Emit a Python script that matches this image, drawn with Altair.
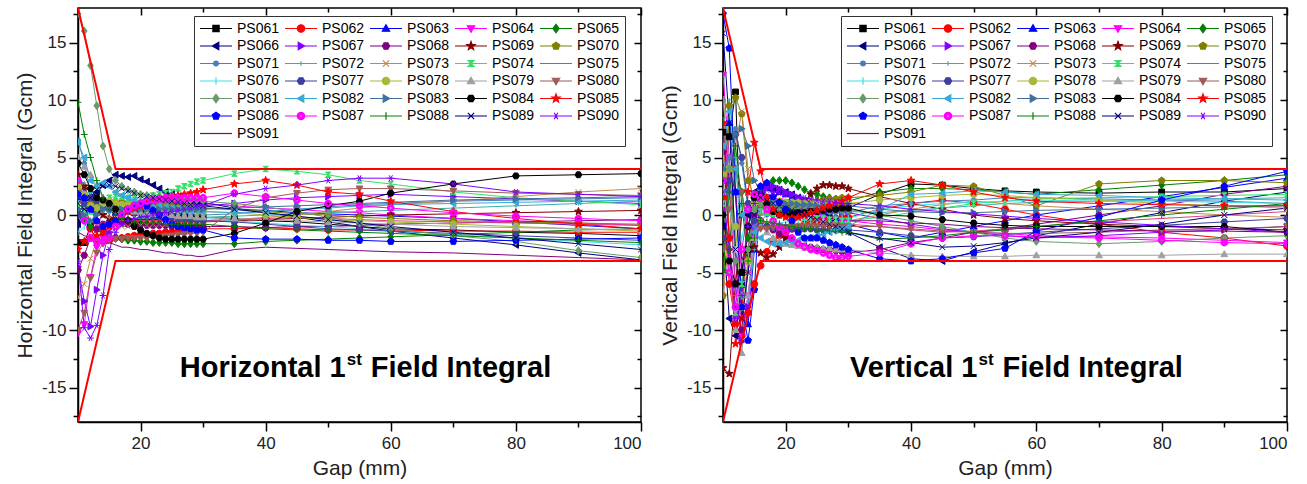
import math
import altair as alt
import pandas as pd

# ---------------- data ----------------
GAP = [10, 11, 12, 13, 14, 15, 16, 17, 18, 19, 20, 21, 22, 23, 24, 25, 26, 27, 28, 29, 30,
       35, 40, 45, 50, 55, 60, 70, 80, 90, 100]

SERIES = ["PS061", "PS062", "PS063", "PS064", "PS065", "PS066", "PS067", "PS068", "PS069", "PS070",
          "PS071", "PS072", "PS073", "PS074", "PS075", "PS076", "PS077", "PS078", "PS079", "PS080",
          "PS081", "PS082", "PS083", "PS084", "PS085", "PS086", "PS087", "PS088", "PS089", "PS090",
          "PS091"]

COLORS = ["#000000", "#ff0000", "#0000ff", "#ff00ff", "#008000", "#000080", "#8000ff", "#800080",
          "#800000", "#808000", "#4a7ebb", "#3aafa9", "#c08850", "#33e066", "#e0407f", "#40e0e8",
          "#3f3f9f", "#a8b838", "#a0a0a0", "#a05a5a", "#6a9a6a", "#38a8d8", "#3f6f9f", "#000000",
          "#ff0000", "#0000ff", "#ff00ff", "#008000", "#000080", "#8000ff", "#800080"]

MARKERS = ["square", "circle", "tri_up", "tri_down", "diamond", "tri_left", "tri_right", "hexagon",
           "star", "pentagon", "small_circle", "small_plus", "cross", "bowtie", "dash", "vbar",
           "hexagon", "circle", "tri_up", "tri_down", "diamond", "tri_left", "tri_right", "hexagon",
           "star", "pentagon", "ring", "plus", "cross", "asterisk", "none"]

TOL_GAP = [10, 16, 100]
TOL_UP = [18, 4, 4]
TOL_LO = [-18, -4, -4]

# Horizontal 1st field integral (Gcm)
H061 = [-2.4, -2.4, -1.0, 0.5, 0.8, 0.6, 0.4, 0.3, 0.3, 0.2, 0.2, 0.1, 0.1, 0.0, 0.0, -0.1, -0.1, -0.1, -0.2, -0.2, -0.2, -0.3, -0.5, -0.6, -0.8, -1.0, -1.2, -1.3, -1.5, -1.6, -1.8]
H062 = [2.8, 1.5, -1.2, -2.2, -2.3, -2.2, -2.0, -2.0, -1.9, -1.8, -1.7, -1.7, -1.6, -1.6, -1.5, -1.5, -1.4, -1.4, -1.3, -1.3, -1.2, -1.2, -1.1, -1.2, -1.3, -1.3, -1.3, -1.4, -1.4, -1.5, -1.5]
H063 = [1.5, 2.0, 1.0, -0.5, -1.2, -0.8, 0.2, 0.8, 1.0, 1.1, 1.0, 1.0, 0.9, 0.9, 0.8, 0.8, 0.8, 0.7, 0.7, 0.6, 0.6, 0.5, 0.4, 0.2, 0.1, 0.0, -0.1, -0.3, -0.6, -0.9, -1.2]
H064 = [-10.3, -9.5, -5.4, -2.8, -2.0, -1.2, -0.5, 0.2, 0.6, 0.8, 0.9, 0.9, 1.0, 1.0, 1.0, 1.0, 1.0, 1.0, 1.0, 1.0, 1.0, 0.8, 0.6, 0.5, 0.3, 0.2, 0.0, -0.3, -0.5, -0.7, -0.9]
H065 = [0.5, -0.3, -1.0, -1.3, -1.5, -1.8, -2.0, -2.1, -2.2, -2.2, -2.3, -2.3, -2.4, -2.4, -2.4, -2.4, -2.5, -2.5, -2.5, -2.5, -2.5, -2.5, -2.3, -2.2, -2.1, -2.0, -1.9, -1.7, -1.5, -1.3, -1.2]
H066 = [-0.8, 0.5, 1.5, 2.0, 2.6, 3.0, 3.5, 3.4, 3.3, 3.4, 3.1, 2.9, 2.6, 2.3, 2.0, 1.8, 1.6, 1.5, 1.3, 1.2, 1.1, 0.6, 0.2, -0.2, -0.6, -1.0, -1.4, -2.0, -2.6, -3.3, -3.9]
H067 = [-4.5, -7.5, -9.7, -6.5, -3.5, -1.5, -0.5, 0.0, 0.3, 0.5, 0.6, 0.6, 0.7, 0.7, 0.7, 0.7, 0.8, 0.8, 0.8, 0.8, 0.8, 1.0, 1.3, 1.5, 1.6, 1.7, 1.8, 1.6, 1.4, 1.2, 1.0]
H068 = [-4.8, -3.5, -2.0, -1.2, -0.8, -0.6, -0.7, -0.7, -0.8, -0.8, -0.8, -0.9, -0.9, -0.9, -0.9, -1.0, -1.0, -1.0, -1.0, -1.0, -1.0, -1.0, -1.1, -1.0, -1.0, -0.9, -0.8, -0.7, -0.6, -0.5, -0.4]
H069 = [3.5, 2.5, 1.2, 0.5, 0.0, -0.3, -0.4, -0.4, -0.4, -0.5, -0.5, -0.5, -0.5, -0.5, -0.5, -0.6, -0.6, -0.6, -0.6, -0.6, -0.6, -0.5, -0.4, -0.3, -0.2, -0.1, 0.0, 0.1, 0.2, 0.3, 0.4]
H070 = [2.0, 1.5, 1.0, 0.8, 1.0, 1.2, 1.1, 1.1, 1.0, 1.0, 0.9, 0.9, 0.9, 0.8, 0.8, 0.8, 0.7, 0.7, 0.7, 0.6, 0.6, 0.5, 0.3, 0.1, 0.0, -0.2, -0.3, -0.5, -0.6, -0.7, -0.8]
H071 = [6.5, 4.5, 2.0, 1.0, 0.5, 0.3, 0.3, 0.3, 0.2, 0.2, 0.2, 0.2, 0.1, 0.1, 0.1, 0.1, 0.1, 0.0, 0.0, 0.0, 0.0, 0.1, 0.3, 0.5, 0.7, 0.9, 1.0, 1.2, 1.3, 1.4, 1.5]
H072 = [3.0, 2.8, 2.0, 1.0, 0.3, -0.2, -0.3, -0.3, -0.3, -0.3, -0.3, -0.3, -0.3, -0.3, -0.2, -0.2, -0.2, -0.2, -0.2, -0.2, -0.2, -0.1, 0.0, 0.1, 0.2, 0.3, 0.4, 0.6, 0.8, 1.0, 1.2]
H073 = [-7.2, -6.0, -3.8, -2.2, -1.5, -1.2, -1.0, -1.0, -1.0, -0.9, -0.9, -0.9, -0.8, -0.8, -0.8, -0.7, -0.7, -0.7, -0.6, -0.6, -0.6, -0.4, -0.2, 0.0, 0.3, 0.6, 0.9, 1.2, 1.6, 2.0, 2.3]
H074 = [1.0, 0.5, 0.3, 0.8, 1.2, 1.5, 1.6, 1.6, 1.5, 1.5, 1.5, 1.6, 1.7, 1.8, 1.9, 2.0, 2.3, 2.5, 2.7, 2.9, 3.0, 3.6, 4.0, 3.8, 3.5, 3.0, 2.7, 2.0, 1.5, 1.2, 0.9]
H075 = [1.5, 0.5, -0.5, -0.8, -0.7, -0.6, -0.6, -0.5, -0.5, -0.5, -0.5, -0.5, -0.5, -0.5, -0.5, -0.5, -0.5, -0.5, -0.5, -0.5, -0.5, -0.4, -0.3, -0.2, -0.3, -0.4, -0.5, -0.6, -0.7, -0.8, -0.9]
H076 = [-1.5, -1.0, -0.5, 0.2, 0.5, 0.4, 0.3, 0.3, 0.2, 0.2, 0.1, 0.1, 0.0, 0.0, 0.0, -0.1, -0.1, -0.2, -0.2, -0.3, -0.3, -0.5, -0.7, -0.9, -1.0, -1.2, -1.4, -1.7, -2.0, -2.3, -2.6]
H077 = [0.0, 1.0, 1.5, 1.2, 0.8, 0.6, 0.5, 0.4, 0.3, 0.2, 0.1, 0.0, -0.1, -0.1, -0.2, -0.2, -0.3, -0.3, -0.4, -0.4, -0.5, -0.6, -0.8, -1.0, -1.2, -1.3, -1.4, -1.6, -1.8, -2.0, -2.2]
H078 = [2.5, 1.8, 0.8, 0.6, 1.0, 1.2, 1.0, 0.9, 0.9, 0.8, 0.8, 0.7, 0.7, 0.6, 0.6, 0.5, 0.5, 0.4, 0.4, 0.3, 0.3, 0.2, 0.0, -0.2, -0.4, -0.5, -0.6, -0.8, -1.0, -1.2, -1.4]
H079 = [5.0, 4.2, 3.5, 2.5, 1.5, 0.8, 0.5, 0.4, 0.3, 0.3, 0.2, 0.2, 0.1, 0.1, 0.0, 0.0, -0.1, -0.1, -0.1, -0.2, -0.2, -0.3, -0.4, -0.5, -0.6, -0.7, -0.8, -1.0, -1.1, -1.2, -1.3]
H080 = [-10.0, -8.5, -5.5, -3.3, -2.5, -2.2, -2.1, -2.1, -2.0, -2.0, -2.0, -2.0, -1.9, -1.9, -1.8, -1.8, -1.7, -1.7, -1.6, -1.6, -1.5, 0.5, 1.5, 1.9, 2.2, 2.3, 2.3, 2.1, 1.9, 1.8, 1.7]
H081 = [17.5, 16.0, 13.0, 9.5, 6.0, 4.0, 3.0, 2.5, 2.2, 2.0, 1.8, 1.7, 1.6, 1.6, 1.5, 1.5, 1.4, 1.4, 1.3, 1.3, 1.2, 1.0, 0.7, 0.3, -0.2, -0.7, -1.2, -1.8, -2.3, -3.1, -3.7]
H082 = [6.3, 5.0, 3.0, 2.5, 2.8, 2.5, 2.0, 1.7, 1.5, 1.3, 1.1, 1.0, 0.9, 0.8, 0.7, 0.6, 0.5, 0.5, 0.4, 0.4, 0.3, 0.2, 0.3, 0.5, 0.6, 0.8, 0.9, 1.0, 1.1, 1.2, 1.3]
H083 = [0.5, 0.0, -0.5, 0.0, 0.5, 0.6, 0.6, 0.5, 0.5, 0.5, 0.5, 0.5, 0.5, 0.5, 0.5, 0.5, 0.5, 0.5, 0.5, 0.5, 0.5, 0.6, 0.7, 0.8, 0.9, 1.0, 1.1, 1.3, 1.4, 1.5, 1.6]
H084 = [4.5, 3.5, 2.3, 1.5, 1.3, 1.0, 0.5, 0.0, -0.5, -1.0, -1.3, -1.6, -1.8, -2.0, -2.1, -2.1, -2.1, -2.1, -2.1, -2.1, -2.1, -1.6, -0.7, 0.3, 0.8, 1.2, 1.9, 2.7, 3.4, 3.5, 3.6]
H085 = [-3.0, -2.3, -2.0, -1.8, -1.5, -1.0, -0.5, 0.0, 0.3, 0.6, 0.8, 1.0, 1.2, 1.4, 1.5, 1.6, 1.7, 1.8, 1.9, 2.0, 2.2, 2.7, 3.0, 2.6, 2.0, 1.8, 1.2, 0.3, -0.3, -0.8, -1.2]
H086 = [1.8, 1.5, 0.5, -0.5, -1.0, -0.8, -0.5, 0.0, 0.5, 0.8, 1.0, 0.8, 0.4, 0.0, -0.4, -0.8, -1.0, -1.1, -1.2, -1.3, -1.3, -2.0, -2.1, -2.1, -2.2, -2.2, -2.3, -2.3, -2.2, -2.1, -2.0]
H087 = [3.0, -0.5, -2.0, -2.3, -2.3, -2.0, -1.0, 0.0, 0.5, 0.8, 1.0, 1.2, 1.3, 1.4, 1.5, 1.5, 1.5, 1.5, 1.5, 1.5, 1.5, 1.9, 1.6, 1.3, 1.0, 0.8, 0.6, 0.2, -0.1, -0.3, -0.5]
H088 = [9.8, 7.0, 5.0, 3.0, 1.5, 0.5, 0.0, -0.3, -0.5, -0.6, -0.6, -0.7, -0.7, -0.7, -0.8, -0.8, -0.8, -0.8, -0.8, -0.8, -0.8, -1.0, -1.2, -1.3, -1.4, -1.5, -1.6, -1.8, -2.0, -2.2, -2.4]
H089 = [1.0, 0.5, 1.5, 2.2, 2.5, 2.6, 2.5, 2.3, 2.1, 1.9, 1.7, 1.6, 1.5, 1.4, 1.3, 1.2, 1.1, 1.0, 0.9, 0.9, 0.8, 0.5, 0.2, -0.1, -0.4, -0.7, -1.0, -1.5, -2.0, -2.5, -3.0]
H090 = [-4.0, -9.8, -10.7, -9.6, -7.0, -3.0, -1.5, -0.8, -0.5, -0.3, -0.2, -0.1, 0.0, 0.1, 0.2, 0.3, 0.4, 0.5, 0.6, 0.7, 0.8, 1.8, 2.3, 2.6, 3.0, 3.2, 3.2, 2.7, 2.0, 1.8, 1.6]
H091 = [-1.5, -1.8, -2.0, -2.2, -2.5, -2.4, -2.6, -2.8, -2.8, -2.9, -3.0, -3.0, -3.1, -3.2, -3.3, -3.3, -3.4, -3.5, -3.5, -3.6, -3.6, -3.0, -2.8, -2.9, -3.0, -3.1, -3.2, -3.3, -3.5, -3.7, -3.9]

# Vertical 1st field integral (Gcm)
V061 = [7.2, 6.8, 10.7, -5.0, -3.0, 0.5, 1.8, 1.5, 1.0, 0.5, 0.3, 0.2, 0.2, 0.3, 0.4, 0.5, 0.5, 0.6, 0.6, 0.6, 0.6, 1.8, 2.7, 2.6, 2.3, 2.1, 2.0, 1.9, 2.0, 2.0, 2.3]
V062 = [1.5, -6.0, -9.5, -10.5, -8.5, -6.0, -4.4, -3.2, -2.2, -1.8, -1.5, -1.2, -1.0, -0.8, -0.6, -0.5, -0.4, -0.3, -0.3, -0.2, -0.2, 0.5, 1.0, 1.3, 1.0, 0.5, 0.0, -0.8, -1.5, -2.0, -2.7]
V063 = [3.0, 8.0, 2.0, -8.0, -9.5, -3.0, 1.0, 2.5, 2.3, 2.0, 1.8, 1.5, 1.2, 1.0, 0.8, 0.5, 0.2, 0.0, -0.3, -0.6, -0.8, -1.5, -2.0, -1.5, -1.0, -0.5, 0.0, 0.8, 1.6, 2.4, 3.2]
V064 = [12.2, 5.0, -4.0, -10.5, -7.0, -2.0, 0.5, 1.5, 1.5, 1.2, 1.0, 0.8, 0.5, 0.3, 0.2, 0.0, -0.2, -0.3, -0.4, -0.5, -0.5, -0.8, -1.0, -1.3, -1.5, -1.6, -1.8, -1.9, -2.0, -2.2, -2.4]
V065 = [-4.8, -3.0, 4.0, 2.0, -2.0, 0.5, 2.0, 2.5, 3.0, 3.0, 3.0, 2.8, 2.5, 2.2, 1.9, 1.8, 1.6, 1.5, 1.4, 1.3, 1.2, 2.0, 2.3, 2.3, 2.2, 2.0, 1.8, 2.2, 2.6, 3.0, 3.5]
V066 = [-1.0, -9.0, -10.5, -6.0, 0.0, 2.0, 2.3, 2.4, 2.3, 2.2, 2.0, 1.8, 1.5, 1.2, 0.9, 0.6, 0.3, 0.0, -0.5, -1.0, -1.5, -2.8, -3.8, -4.0, -3.2, -2.5, -1.8, -0.8, 0.2, 1.2, 2.0]
V067 = [8.0, 2.0, -6.0, -11.0, -8.0, -1.0, 1.5, 2.4, 2.5, 2.3, 2.0, 1.8, 1.5, 1.3, 1.0, 0.8, 0.6, 0.5, 0.4, 0.3, 0.2, -0.3, -0.8, -1.2, -1.5, -1.8, -2.0, -1.8, -1.5, -1.3, -1.0]
V068 = [5.5, -2.0, -8.0, -10.0, -4.0, 0.0, -0.5, -1.0, -1.3, -1.6, -1.9, -2.2, -2.5, -2.7, -2.8, -2.9, -3.0, -3.0, -3.1, -3.2, -3.3, -3.0, -2.4, -2.0, -1.5, -1.2, -0.8, 0.0, 0.8, 1.8, 2.5]
V069 = [-13.3, -13.8, -6.0, 0.0, -1.0, -2.8, -3.3, -3.7, -3.4, -2.8, -2.0, -1.0, 0.0, 1.0, 1.8, 2.3, 2.6, 2.6, 2.5, 2.5, 2.3, 1.6, 1.0, 0.5, 0.0, -0.3, -0.5, -0.8, -1.0, -1.2, -1.3]
V070 = [-7.0, 9.5, 10.2, 8.8, 3.0, 1.5, 1.0, 0.8, 0.6, 0.6, 0.7, 0.8, 0.9, 1.0, 1.1, 1.2, 1.3, 1.4, 1.4, 1.5, 1.5, 1.7, 2.0, 2.6, 2.5, 1.7, 0.8, 2.7, 3.0, 3.0, 2.8]
V071 = [4.0, 5.0, 7.5, 4.5, 0.5, -1.0, -0.5, 0.0, 0.2, 0.2, 0.2, 0.2, 0.2, 0.2, 0.2, 0.2, 0.2, 0.2, 0.2, 0.2, 0.2, 0.8, 1.0, 1.2, 1.3, 1.5, 1.5, 1.4, 1.3, 1.2, 1.0]
V072 = [4.5, 10.0, 5.0, -4.0, -7.5, -3.0, 0.0, 0.5, 0.5, 0.5, 0.4, 0.4, 0.4, 0.4, 0.3, 0.3, 0.3, 0.3, 0.3, 0.3, 0.3, 0.2, 0.4, 0.6, 0.8, 1.0, 1.1, 1.2, 1.3, 1.4, 1.5]
V073 = [-7.0, -2.0, 6.0, 9.0, 4.0, 0.5, -0.5, -0.8, -1.0, -1.0, -1.0, -0.9, -0.9, -0.8, -0.8, -0.7, -0.7, -0.6, -0.6, -0.5, -0.5, 0.0, 0.5, 0.9, 1.2, 1.0, 0.8, 0.5, 0.3, 0.0, -0.2]
V074 = [1.0, -4.0, -8.5, -6.0, -1.0, 0.5, 0.3, 0.2, 0.1, 0.0, 0.0, -0.1, -0.1, -0.2, -0.2, -0.3, -0.3, -0.4, -0.4, -0.5, -0.5, -0.2, 0.2, 0.6, 1.0, 1.2, 1.4, 1.5, 1.6, 1.7, 1.8]
V075 = [8.5, 3.0, -7.0, -9.0, -5.0, -1.5, 0.0, 0.2, 0.1, 0.0, -0.1, -0.2, -0.3, -0.3, -0.4, -0.5, -0.5, -0.6, -0.7, -0.8, -0.8, -1.0, -1.3, -1.5, -1.4, -1.2, -1.0, -0.6, -0.3, 0.0, 0.3]
V076 = [5.5, 1.0, -3.0, -2.0, 0.5, -0.5, -1.0, -0.8, -0.7, -0.7, -0.6, -0.6, -0.5, -0.5, -0.5, -0.4, -0.4, -0.4, -0.3, -0.3, -0.3, 0.5, 0.8, 1.0, 1.1, 1.2, 1.3, 1.2, 1.2, 1.1, 1.0]
V077 = [-2.0, 3.0, 7.0, 5.0, 1.0, -0.5, -1.0, -1.0, -1.1, -1.1, -1.1, -1.2, -1.2, -1.2, -1.2, -1.3, -1.3, -1.3, -1.3, -1.3, -1.3, -1.5, -1.8, -2.0, -1.9, -1.7, -1.5, -1.2, -0.9, -0.6, -0.3]
V078 = [3.5, 4.0, -1.0, -8.0, -4.0, 1.0, 1.5, 1.3, 1.2, 1.2, 1.1, 1.1, 1.1, 1.0, 1.0, 1.0, 1.0, 1.0, 1.0, 1.0, 1.0, 1.3, 1.5, 1.7, 1.8, 1.7, 1.5, 1.3, 1.0, 0.8, 0.6]
V079 = [2.0, -5.0, -10.0, -12.0, -7.0, -2.0, -1.0, -1.5, -2.0, -2.3, -2.5, -2.6, -2.7, -2.7, -2.8, -2.8, -2.9, -2.9, -3.0, -3.0, -3.0, -3.3, -3.5, -3.6, -3.6, -3.6, -3.5, -3.5, -3.5, -3.4, -3.4]
V080 = [-3.0, 0.5, 4.0, 2.0, -1.0, -1.5, -1.2, -1.2, -1.1, -1.1, -1.1, -1.0, -1.0, -1.0, -1.0, -1.0, -1.0, -1.0, -1.0, -1.0, -1.0, -1.0, -1.2, -1.4, -1.5, -1.6, -1.6, -1.5, -1.3, -1.2, -1.0]
V081 = [10.0, 4.0, -4.0, -7.0, -3.0, 0.5, 1.0, 0.9, 0.9, 0.8, 0.8, 0.8, 0.7, 0.7, 0.7, 0.6, 0.6, 0.6, 0.5, 0.5, 0.5, 0.0, -0.5, -1.0, -1.5, -2.0, -2.3, -2.5, -2.3, -2.0, -1.8]
V082 = [6.0, 9.0, 4.0, 0.0, -1.0, -1.5, -2.0, -2.3, -2.5, -2.5, -2.4, -2.3, -2.2, -2.1, -2.0, -1.8, -1.7, -1.5, -1.3, -1.2, -1.0, 0.5, 1.8, 1.9, 2.1, 2.0, 1.8, 1.7, 1.5, 1.4, 1.3]
V083 = [4.0, 2.0, 7.0, 7.5, 6.0, 3.0, 2.0, 1.5, 1.2, 1.1, 1.0, 1.0, 0.9, 0.9, 0.9, 0.8, 0.8, 0.8, 0.8, 0.8, 0.8, 0.5, 0.3, 0.2, 0.2, 0.3, 0.4, 0.5, 0.6, 0.7, 0.8]
V084 = [0.0, -4.0, -6.0, -5.0, -1.0, 1.5, 1.8, 1.0, 0.3, 0.0, 0.0, 0.1, 0.2, 0.2, 0.3, 0.3, 0.4, 0.5, 0.5, 0.6, 0.6, 0.0, -0.1, -0.4, -0.7, -0.9, -1.0, -1.0, -1.0, -1.0, -1.5]
V085 = [8.0, -2.0, -11.2, -9.0, 2.0, 6.3, 3.8, 1.5, 0.5, 0.0, -0.2, -0.3, -0.2, 0.0, 0.2, 0.4, 0.6, 0.8, 1.0, 1.2, 1.5, 2.7, 3.0, 2.6, 2.0, 1.5, 1.2, 1.0, 0.9, 0.8, 0.8]
V086 = [17.5, 14.5, 2.0, -8.0, -10.9, -6.5, 2.5, 2.8, 1.6, 1.1, 0.5, -0.5, -1.5, -2.0, -2.0, -2.0, -2.2, -2.4, -2.6, -2.8, -3.0, -3.8, -4.0, -3.8, -3.3, -2.9, -1.4, -0.2, 1.3, 2.5, 3.8]
V087 = [3.0, -5.0, -8.0, -3.0, 0.5, 1.8, 1.5, 0.5, -0.5, -1.0, -1.5, -2.0, -2.5, -2.8, -3.0, -3.1, -3.3, -3.5, -3.7, -3.7, -3.6, -3.3, -2.5, -2.0, -1.8, -1.8, -1.9, -2.0, -2.2, -2.4, -2.5]
V088 = [-5.0, 2.0, 6.0, 1.0, -4.0, -2.0, -0.5, -0.6, -0.7, -0.8, -0.9, -1.0, -1.1, -1.2, -1.2, -1.3, -1.3, -1.4, -1.4, -1.5, -1.5, -2.1, -2.0, -1.8, -1.5, -1.3, -1.0, -0.5, 0.0, 0.5, 1.0]
V089 = [15.8, 8.0, -3.0, -9.0, -5.0, 0.0, 1.5, 1.2, 1.0, 0.8, 0.6, 0.4, 0.2, 0.0, -0.2, -0.4, -0.6, -0.8, -1.0, -1.2, -1.5, -2.0, -2.4, -2.8, -2.7, -2.4, -2.0, -1.5, -0.8, 0.0, 0.6]
V090 = [2.0, -3.0, -9.0, -7.0, -1.0, 1.0, 2.0, 2.2, 2.0, 1.9, 1.8, 1.7, 1.6, 1.5, 1.4, 1.3, 1.2, 1.2, 1.1, 1.0, 1.0, 0.8, 0.5, 0.3, 0.1, -0.1, -0.3, -0.6, -0.9, -1.2, -1.5]
V091 = [0.0, 4.0, 2.0, -4.0, -2.0, 0.5, 0.8, 0.5, 0.4, 0.3, 0.2, 0.1, 0.0, 0.0, -0.1, -0.2, -0.2, -0.3, -0.3, -0.4, -0.5, -0.5, -0.7, -0.8, -1.0, -1.1, -1.2, -1.3, -1.4, -1.4, -1.5]

H_LISTS = [H061, H062, H063, H064, H065, H066, H067, H068, H069, H070, H071, H072, H073, H074, H075,
           H076, H077, H078, H079, H080, H081, H082, H083, H084, H085, H086, H087, H088, H089, H090, H091]
V_LISTS = [V061, V062, V063, V064, V065, V066, V067, V068, V069, V070, V071, V072, V073, V074, V075,
           V076, V077, V078, V079, V080, V081, V082, V083, V084, V085, V086, V087, V088, V089, V090, V091]

# ---------------- marker geometry (style) ----------------
FONT = "Liberation Sans"


def _ngon(n, r=1.0, rot=-90.0, rev=False):
    pts = [(r * math.cos(math.radians(rot + 360.0 * k / n)),
            r * math.sin(math.radians(rot + 360.0 * k / n))) for k in range(n)]
    return pts[::-1] if rev else pts


def _poly(pts, s):
    return "M" + "L".join(f"{x * s:.3f},{y * s:.3f}" for x, y in pts) + "Z"


def _segs(segs, s):
    return "".join(f"M{a * s:.3f},{b * s:.3f}L{c * s:.3f},{d * s:.3f}" for a, b, c, d in segs)


def _star():
    pts = []
    for k in range(10):
        r = 1.0 if k % 2 == 0 else 0.42
        ang = math.radians(-90 + 36 * k)
        pts.append((r * math.cos(ang), r * math.sin(ang)))
    return pts


def marker_path(kind, s):
    if kind == "square":
        return _poly([(-0.85, -0.85), (0.85, -0.85), (0.85, 0.85), (-0.85, 0.85)], s)
    if kind == "circle":
        return _poly(_ngon(16), s)
    if kind == "small_circle":
        return _poly(_ngon(16, 0.65), s)
    if kind == "tri_up":
        return _poly([(0, -1), (1, 0.75), (-1, 0.75)], s)
    if kind == "tri_down":
        return _poly([(0, 1), (1, -0.75), (-1, -0.75)], s)
    if kind == "diamond":
        return _poly([(0, -1.15), (0.85, 0), (0, 1.15), (-0.85, 0)], s)
    if kind == "tri_left":
        return _poly([(-1, 0), (0.75, -1), (0.75, 1)], s)
    if kind == "tri_right":
        return _poly([(1, 0), (-0.75, -1), (-0.75, 1)], s)
    if kind == "hexagon":
        return _poly(_ngon(6, 1.0, 0.0), s)
    if kind == "pentagon":
        return _poly(_ngon(5, 1.05), s)
    if kind == "star":
        return _poly([(x * 1.2, y * 1.2) for x, y in _star()], s)
    if kind == "ring":
        return _poly(_ngon(16), s) + _poly(_ngon(16, 0.45, rev=True), s)
    if kind == "bowtie":
        return _poly([(-0.8, -0.8), (0.8, -0.8), (-0.8, 0.8), (0.8, 0.8)], s)
    if kind == "cross":
        return _segs([(-0.85, -0.85, 0.85, 0.85), (-0.85, 0.85, 0.85, -0.85)], s)
    if kind == "plus":
        return _segs([(-1, 0, 1, 0), (0, -1, 0, 1)], s)
    if kind == "small_plus":
        return _segs([(-0.6, 0, 0.6, 0), (0, -0.6, 0, 0.6)], s)
    if kind == "asterisk":
        return _segs([(-1, 0, 1, 0), (-0.5, -0.87, 0.5, 0.87), (-0.5, 0.87, 0.5, -0.87)], s)
    if kind == "dash":
        return _segs([(-1, 0, 1, 0)], s)
    if kind == "vbar":
        return _segs([(0, -1, 0, 1)], s)
    return "M0,0L0,0"


PLOT_SHAPES = [marker_path(k, 1.0) for k in MARKERS]
LEGEND_SHAPES = ["M-1,0L1,0" + ("" if k == "none" else marker_path(k, 0.23)) for k in MARKERS]


def long_df(lists):
    rows = []
    for name, vals in zip(SERIES, lists):
        assert len(vals) == len(GAP), name
        for g, v in zip(GAP, vals):
            rows.append({"gap": g, "val": v, "series": name})
    return pd.DataFrame(rows)


tol_df = pd.DataFrame(
    [{"gap": g, "val": v, "side": "upper"} for g, v in zip(TOL_GAP, TOL_UP)]
    + [{"gap": g, "val": v, "side": "lower"} for g, v in zip(TOL_GAP, TOL_LO)]
)

X_MAJOR = [20, 40, 60, 80, 100]
X_MINOR = [30, 50, 70, 90]
Y_MAJOR = [-15, -10, -5, 0, 5, 10, 15]
Y_MINOR = [-17.5, -12.5, -7.5, -2.5, 2.5, 7.5, 12.5, 17.5]


def panel(lists, ytitle, word, anchor, legend_x, width):
    df = long_df(lists)
    xs = alt.Scale(domain=[10, 100], nice=False, zero=False)
    ys = alt.Scale(domain=[-18, 18], nice=False, zero=False)
    cs = alt.Scale(domain=SERIES, range=COLORS)

    ax_bottom = alt.Axis(orient="bottom", values=X_MAJOR, tickSize=9, labelPadding=4,
                         title="Gap (mm)", titlePadding=6, grid=False, labelExpr="'' + datum.value")
    ax_bottom_minor = alt.Axis(orient="bottom", values=X_MINOR, tickSize=5, labels=False,
                               domain=False, title=None, grid=False)
    ax_top = alt.Axis(orient="top", values=X_MAJOR, tickSize=7, offset=-7, labels=False,
                      domain=False, title=None, grid=False)
    ax_top_minor = alt.Axis(orient="top", values=X_MINOR, tickSize=4, offset=-4, labels=False,
                            domain=False, title=None, grid=False)
    ax_left = alt.Axis(orient="left", values=Y_MAJOR, tickSize=9, labelPadding=3,
                       title=ytitle, titlePadding=6, grid=False, labelExpr="'' + datum.value")
    ax_left_minor = alt.Axis(orient="left", values=Y_MINOR, tickSize=5, labels=False,
                             domain=False, title=None, grid=False)
    ax_right = alt.Axis(orient="right", values=Y_MAJOR, tickSize=7, offset=-7, labels=False,
                        domain=False, title=None, grid=False)
    ax_right_minor = alt.Axis(orient="right", values=Y_MINOR, tickSize=4, offset=-4, labels=False,
                              domain=False, title=None, grid=False)

    leg = alt.Legend(title=None, orient="none", legendX=legend_x, legendY=8, columns=5,
                     direction="horizontal",
                     symbolSize=1024, symbolStrokeWidth=1.2, clipHeight=15,
                     labelFont=FONT, labelFontSize=14, labelColor="black", labelOffset=4,
                     columnPadding=4, rowPadding=2.5, padding=5, strokeColor="#333333",
                     fillColor="white", symbolLimit=40, labelLimit=100, symbolOpacity=1)

    base = alt.Chart(df)
    lines = base.mark_line(strokeWidth=1, clip=True).encode(
        x=alt.X("gap:Q", scale=xs, axis=ax_bottom),
        y=alt.Y("val:Q", scale=ys, axis=ax_left),
        color=alt.Color("series:N", scale=cs, legend=None),
    )
    points = base.transform_filter("datum.series != 'PS091'").mark_point(
        filled=True, size=46, strokeWidth=1, opacity=1, clip=True
    ).encode(
        x=alt.X("gap:Q", scale=xs, axis=ax_bottom_minor),
        y=alt.Y("val:Q", scale=ys, axis=ax_left_minor),
        fill=alt.Fill("series:N", scale=cs, legend=None),
        stroke=alt.Stroke("series:N", scale=cs, legend=None),
        shape=alt.Shape("series:N", scale=alt.Scale(domain=SERIES, range=PLOT_SHAPES), legend=None),
    )
    dummy = base.mark_point(filled=True, size=44, strokeWidth=1.2, opacity=0).encode(
        x=alt.X("gap:Q", scale=xs, axis=None),
        y=alt.Y("val:Q", scale=ys, axis=None),
        fill=alt.Fill("series:N", scale=cs, legend=leg),
        stroke=alt.Stroke("series:N", scale=cs, legend=leg),
        shape=alt.Shape("series:N", scale=alt.Scale(domain=SERIES, range=LEGEND_SHAPES), legend=leg),
    )
    tol = alt.Chart(tol_df).mark_line(color="#ff0000", strokeWidth=2, clip=True).encode(
        x=alt.X("gap:Q", scale=xs, axis=ax_top),
        y=alt.Y("val:Q", scale=ys, axis=ax_right),
        detail="side:N",
    )
    tdf = pd.DataFrame({"gap": [anchor], "val": [-14.1]})
    t1 = alt.Chart(tdf).mark_text(text=word + " 1", align="right", baseline="alphabetic", font=FONT,
                                  fontSize=29, fontWeight="bold", color="black").encode(
        x=alt.X("gap:Q", scale=xs, axis=ax_top_minor),
        y=alt.Y("val:Q", scale=ys, axis=ax_right_minor),
    )
    t2 = alt.Chart(tdf).mark_text(text="st", align="left", baseline="alphabetic", font=FONT,
                                  fontSize=17, fontWeight="bold", color="black", dx=1, dy=-12).encode(
        x=alt.X("gap:Q", scale=xs, axis=None),
        y=alt.Y("val:Q", scale=ys, axis=None),
    )
    t3 = alt.Chart(tdf).mark_text(text="Field Integral", align="left", baseline="alphabetic", font=FONT,
                                  fontSize=29, fontWeight="bold", color="black", dx=25).encode(
        x=alt.X("gap:Q", scale=xs, axis=None),
        y=alt.Y("val:Q", scale=ys, axis=None),
    )
    return alt.layer(lines, points, dummy, tol, t1, t2, t3).resolve_scale(
        color="independent", fill="independent", stroke="independent", shape="independent"
    ).resolve_axis(x="independent", y="independent").properties(width=width, height=414)


left = panel(H_LISTS, "Horizontal Field Integral (Gcm)", "Horizontal", 52.8, 116, 563)
right = panel(V_LISTS, "Vertical Field Integral (Gcm)", "Vertical", 50.6, 118, 564)

chart = alt.hconcat(left, right, spacing=12).resolve_scale(
    color="independent", fill="independent", stroke="independent", shape="independent"
).properties(
    padding={"left": 13, "top": 6, "right": 5, "bottom": 5}
).configure_view(
    stroke="black", strokeWidth=1.5
).configure_axis(
    labelFont=FONT, labelFontSize=17, labelColor="#222222",
    titleFont=FONT, titleFontSize=21, titleFontWeight="normal", titleColor="#222222",
    domainColor="black", domainWidth=1.5, tickColor="black", tickWidth=1.5, grid=False
)

chart.save("out.html", embed_options={"renderer": "svg", "actions": False})
